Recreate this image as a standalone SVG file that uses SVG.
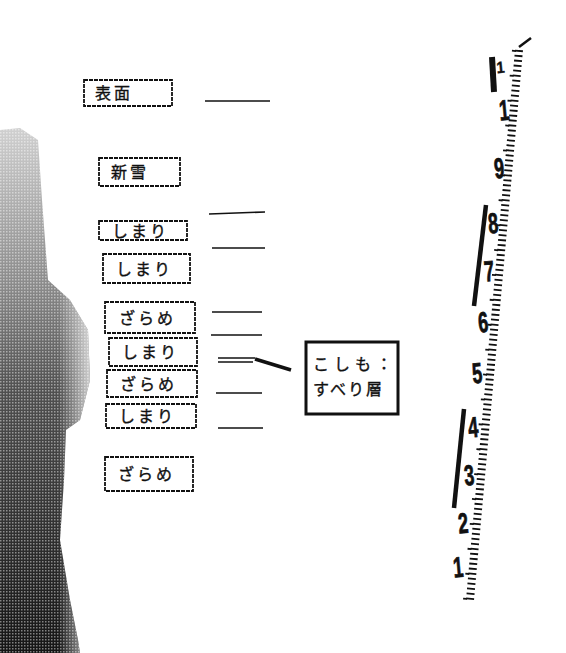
<svg xmlns="http://www.w3.org/2000/svg" width="566" height="653" viewBox="0 0 566 653">
<defs>
<style>
.box{fill:#fff;stroke:#111;stroke-width:1.8;stroke-dasharray:4 1}
.lbl{font-family:"Noto Sans CJK JP","Noto Sans CJK SC",sans-serif;font-size:16px;fill:#111;stroke:#111;stroke-width:0.35;letter-spacing:3px}
.ln{stroke:#111;stroke-width:1.6;fill:none}
.num{font-family:"Liberation Sans","DejaVu Sans",sans-serif;font-weight:bold;font-size:36px;fill:#111;stroke:#111;stroke-width:1;text-anchor:middle}
</style>
<linearGradient id="shade" x1="0" y1="0" x2="0" y2="1">
<stop offset="0" stop-color="#d0d0d0"/>
<stop offset="0.3" stop-color="#8a8a8a"/>
<stop offset="0.5" stop-color="#505050"/>
<stop offset="1" stop-color="#151515"/>
</linearGradient>
<linearGradient id="shadeH" x1="0" y1="0" x2="1" y2="0">
<stop offset="0" stop-color="#fff" stop-opacity="0"/>
<stop offset="0.65" stop-color="#fff" stop-opacity="0"/>
<stop offset="1" stop-color="#fff" stop-opacity="0.7"/>
</linearGradient>
<pattern id="dots" width="3" height="3" patternUnits="userSpaceOnUse">
<rect x="0" y="0" width="1.5" height="1.5" fill="#fff" opacity="0.45"/>
</pattern>
</defs>
<rect width="566" height="653" fill="#fff"/>
<g id="shadow">
<path id="sh" d="M0,130 L20,128 L38,140 L42,200 L48,280 L70,300 L88,330 L90,380 L80,420 L66,430 L64,480 L60,540 L70,600 L78,640 L80,653 L0,653 Z" fill="url(#shade)"/>
<path d="M0,130 L20,128 L38,140 L42,200 L48,280 L70,300 L88,330 L90,380 L80,420 L66,430 L64,480 L60,540 L70,600 L78,640 L80,653 L0,653 Z" fill="url(#dots)"/>
<path d="M0,130 L20,128 L38,140 L42,200 L48,280 L70,300 L88,330 L90,380 L80,420 L66,430 L64,480 L60,540 L70,600 L78,640 L80,653 L0,653 Z" fill="url(#shadeH)"/>
</g>
<g id="connectors">
<line class="ln" x1="205" y1="101" x2="270" y2="101"/>
<line class="ln" x1="209" y1="214" x2="265" y2="212"/>
<line class="ln" x1="212" y1="248" x2="265" y2="248"/>
<line class="ln" x1="212" y1="312" x2="262" y2="312"/>
<line class="ln" x1="211" y1="335" x2="262" y2="335"/>
<line class="ln" x1="218" y1="358" x2="255" y2="358"/>
<line class="ln" x1="218" y1="362" x2="253" y2="362"/>
<line class="ln" x1="216" y1="393" x2="262" y2="393"/>
<line class="ln" x1="218" y1="428" x2="263" y2="428"/>
<line x1="255" y1="359" x2="291" y2="370" stroke="#111" stroke-width="3.5"/>
</g>
<g id="n-surface"><rect class="box" x="84" y="80" width="88" height="26"/><text class="lbl" x="95" y="99">表面</text></g>
<g id="n-shinsetsu"><rect class="box" x="99" y="158" width="81" height="28"/><text class="lbl" x="111" y="178">新雪</text></g>
<g id="n-shimari1"><rect class="box" x="99" y="221" width="88" height="19"/><text class="lbl" x="112" y="237">しまり</text></g>
<g id="n-shimari2"><rect class="box" x="103" y="254" width="87" height="29"/><text class="lbl" x="116" y="275">しまり</text></g>
<g id="n-zarame1"><rect class="box" x="105" y="302" width="90" height="31"/><text class="lbl" x="119" y="324">ざらめ</text></g>
<g id="n-shimari3"><rect class="box" x="109" y="338" width="88" height="28"/><text class="lbl" x="122" y="358">しまり</text></g>
<g id="n-zarame2"><rect class="box" x="107" y="370" width="90" height="27"/><text class="lbl" x="120" y="390">ざらめ</text></g>
<g id="n-shimari4"><rect class="box" x="106" y="404" width="90" height="24"/><text class="lbl" x="119" y="422">しまり</text></g>
<g id="n-zarame3"><rect class="box" x="105" y="457" width="88" height="34"/><text class="lbl" x="118" y="480">ざらめ</text></g>
<g id="n-koshimo"><rect x="306" y="342" width="92" height="72" fill="#fff" stroke="#111" stroke-width="3"/><text class="lbl" x="313" y="370" style="letter-spacing:5px">こしも：</text><text class="lbl" x="313" y="395" style="letter-spacing:2px">すべり層</text></g>
<g id="ruler">
<line x1="519" y1="50" x2="470" y2="600" stroke="#111" stroke-width="8" stroke-dasharray="1.8 3.2"/>
<line x1="514" y1="50" x2="465" y2="600" stroke="#111" stroke-width="4" stroke-dasharray="1.8 23.2"/>
<line x1="519" y1="47" x2="531" y2="38" stroke="#111" stroke-width="2.5"/>
<line x1="492" y1="57" x2="494" y2="92" stroke="#111" stroke-width="6"/>
<line x1="486" y1="205" x2="474" y2="306" stroke="#111" stroke-width="4.5"/>
<line x1="464" y1="409" x2="454" y2="508" stroke="#111" stroke-width="4.5"/>
<text class="num" transform="translate(501,73) rotate(-5) scale(0.4,0.45)">1</text>
<text class="num" transform="translate(505,120) rotate(-5) scale(0.5,0.8)">1</text>
<text class="num" transform="translate(500,178) rotate(-5) scale(0.5,0.8)">9</text>
<text class="num" transform="translate(494,233) rotate(-5) scale(0.5,0.8)">8</text>
<text class="num" transform="translate(490,281) rotate(-5) scale(0.5,0.8)">7</text>
<text class="num" transform="translate(484,332) rotate(-5) scale(0.5,0.8)">6</text>
<text class="num" transform="translate(478,383) rotate(-5) scale(0.5,0.8)">5</text>
<text class="num" transform="translate(474,437) rotate(-5) scale(0.5,0.8)">4</text>
<text class="num" transform="translate(470,485) rotate(-5) scale(0.5,0.8)">3</text>
<text class="num" transform="translate(464,533) rotate(-5) scale(0.5,0.8)">2</text>
<text class="num" transform="translate(459,577) rotate(-5) scale(0.5,0.8)">1</text>
</g>
</svg>
